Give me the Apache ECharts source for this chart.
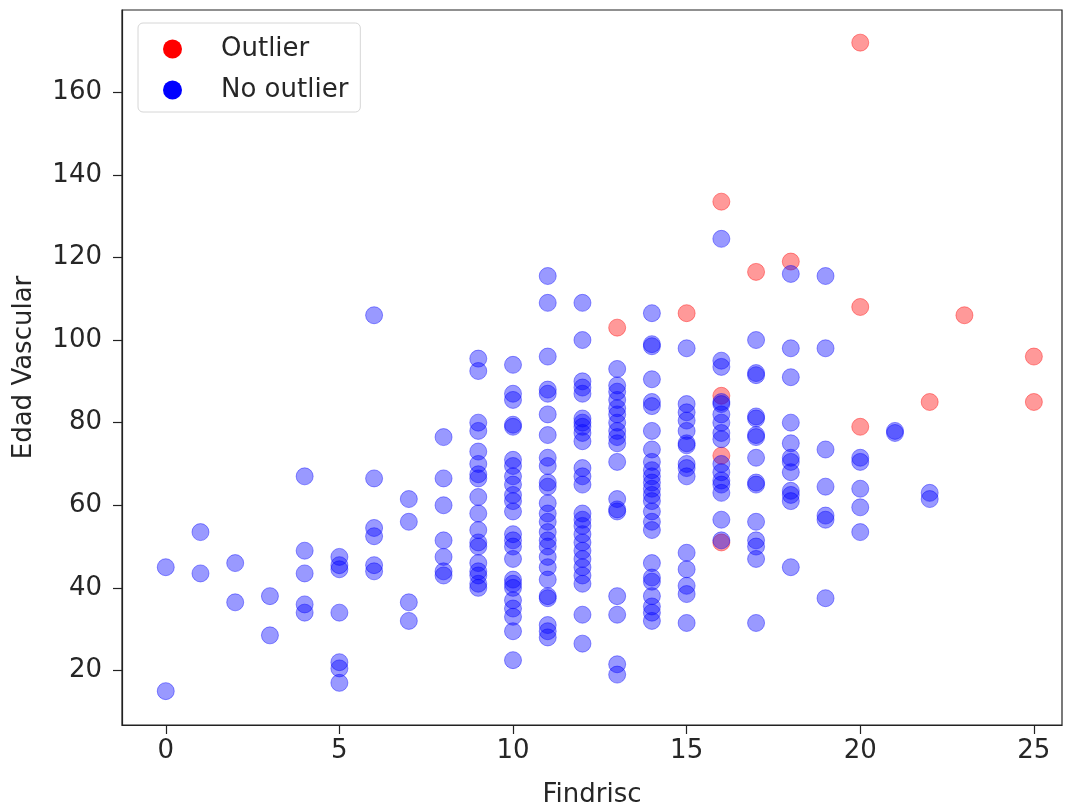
<!DOCTYPE html>
<html>
<head>
<meta charset="utf-8">
<script src="https://cdn.jsdelivr.net/npm/echarts@6/dist/echarts.min.js"></script>
<style>html,body{margin:0;padding:0;background:#fff;}#chart{width:1073px;height:810px;}</style>
</head>
<body>
<div id="chart"></div>
<script>
// Findrisc level for each column of "No outlier" points
const findriscLevels = [0,1,2,3,4,5,6,7,8,9,10,11,12,13,14,15,16,17,18,19,20,21,22];
// Edad Vascular values of "No outlier" points, one list per Findrisc level
const noOutlierEdad = [
  [45, 15],
  [53.5, 43.5],
  [46, 36.5],
  [38, 28.5],
  [67, 49, 43.5, 36, 34],
  [47.5, 45.5, 44.5, 34, 22, 20.5, 17],
  [106, 66.5, 54.5, 52.5, 45.5, 44],
  [61.5, 56, 36.5, 32],
  [76.5, 66.5, 60, 51.5, 47.5, 44, 43],
  [95.5, 92.5, 80, 78, 73, 70, 67.5, 66.5, 62, 58, 54, 51, 50, 46, 44, 43, 41, 40],
  [94, 87, 85.5, 79.5, 79, 71, 69.5, 67, 65, 62.5, 61, 58.5, 53, 51.5, 50, 47, 42, 41, 40, 37, 35, 33, 29.5, 22.5],
  [115.5, 109, 96, 88, 87, 82, 77, 71.5, 69.5, 65.5, 64.5, 60.5, 58, 56, 53.5, 51.5, 50, 47.5, 45, 42, 38, 37.5, 31, 29.5, 28],
  [109, 100, 90, 88.5, 87, 81, 80, 79, 77.5, 75.5, 69, 67, 65, 58, 56.5, 55, 53, 51, 49, 47, 45, 43, 41, 33.5, 26.5],
  [93, 89, 87.5, 85.5, 83.5, 82, 80, 78, 76.5, 75, 70.5, 61.5, 59, 58.5, 38, 33.5, 21.5, 19],
  [106.5, 99, 98.5, 90.5, 85, 84, 78, 73.5, 70.5, 68.5, 67, 65.5, 64, 62.5, 61, 58.5, 56, 54, 46, 42.5, 41.5, 38, 35.5, 34, 32],
  [98, 84.5, 82.5, 80.5, 78, 75, 74.5, 70, 69, 67, 48.5, 44.5, 40.5, 38.5, 31.5],
  [124.5, 95, 93.5, 85, 84.5, 82, 80, 77.5, 76, 70, 68, 66, 65, 63, 56.5, 51.5],
  [100, 92, 91.5, 81.5, 81, 77, 76.5, 71.5, 65.5, 65, 56, 51.5, 50, 47, 31.5],
  [116, 98, 91, 80, 75, 71.5, 70.5, 68, 63.5, 62.5, 61, 45],
  [115.5, 98, 73.5, 64.5, 57.5, 56.5, 37.5],
  [71.5, 70.5, 64, 59.5, 53.5],
  [78, 77.5],
  [63, 61.5]
];
// Outlier points
const outlierFindrisc = [13, 15, 16, 16, 16, 16, 17, 18, 20, 20, 20, 22, 23, 25, 25];
const outlierEdad     = [103, 106.5, 133.5, 86.5, 72, 51, 116.5, 119, 172, 108, 79, 85, 106, 96, 85];
// Tick labels
const xTicks = [0, 5, 10, 15, 20, 25];
const yTicks = [20, 40, 60, 80, 100, 120, 140, 160];
const seriesNames = ['Outlier', 'No outlier'];
const axisNames = { x: 'Findrisc', y: 'Edad Vascular' };

const noOutlierData = [];
findriscLevels.forEach((f, i) => { noOutlierEdad[i].forEach(v => noOutlierData.push([f, v])); });
const outlierData = outlierFindrisc.map((f, i) => [f, outlierEdad[i]]);

const font = 'DejaVu Sans';
const fs = 26;
const txt = '#262626';
const chart = echarts.init(document.getElementById('chart'), null, { renderer: 'canvas' });
chart.setOption({
  animation: false,
  backgroundColor: '#fff',
  grid: { left: 122, top: 10, right: 11, bottom: 85, outerBoundsMode: 'none', containLabel: false,
    show: true, borderColor: '#222', borderWidth: 1.2, backgroundColor: 'transparent' },
  legend: {
    left: 138, top: 23, orient: 'vertical',
    padding: [13, 12, 9, 25],
    itemWidth: 19, itemHeight: 19, itemGap: 15,
    borderColor: '#d6d6d6', borderWidth: 1, borderRadius: 5,
    backgroundColor: '#fff',
    textStyle: { fontFamily: font, fontSize: fs, color: txt, lineHeight: 26, padding: [0, 0, 0, 34] },
    data: [
      { name: seriesNames[0], icon: 'circle', itemStyle: { color: '#ff0000', opacity: 1, borderWidth: 0 } },
      { name: seriesNames[1], icon: 'circle', itemStyle: { color: '#0000ff', opacity: 1, borderWidth: 0 } }
    ]
  },
  xAxis: {
    type: 'value', min: -1.26, max: 25.81, minInterval: 5, maxInterval: 5, splitNumber: 5,
    name: axisNames.x, nameLocation: 'middle', nameGap: 57,
    nameTextStyle: { fontFamily: font, fontSize: fs, color: txt },
    axisLine: { show: true, onZero: false, lineStyle: { color: '#222', width: 1.2 } },
    axisTick: { show: true, length: 9, customValues: xTicks, lineStyle: { color: '#222', width: 1.2 } },
    axisLabel: { fontFamily: font, fontSize: fs, color: txt, margin: 13, customValues: xTicks,
      formatter: v => (xTicks.indexOf(v) >= 0 ? String(v) : '') },
    splitLine: { show: false }
  },
  yAxis: {
    type: 'value', min: 6.8, max: 179.9, minInterval: 20, maxInterval: 20, splitNumber: 8,
    name: axisNames.y, nameLocation: 'middle', nameGap: 85,
    nameTextStyle: { fontFamily: font, fontSize: fs, color: txt },
    axisLine: { show: true, onZero: false, lineStyle: { color: '#222', width: 1.2 } },
    axisTick: { show: true, length: 9, customValues: yTicks, lineStyle: { color: '#222', width: 1.2 } },
    axisLabel: { fontFamily: font, fontSize: fs, color: txt, margin: 20, customValues: yTicks,
      formatter: v => (yTicks.indexOf(v) >= 0 ? String(v) : '') },
    splitLine: { show: false }
  },
  series: [
    {
      name: seriesNames[0], type: 'scatter', symbol: 'circle', symbolSize: 17,
      itemStyle: { color: 'rgba(255,0,0,0.5)', borderColor: 'rgba(255,0,0,0.5)', borderWidth: 1 },
      data: outlierData
    },
    {
      name: seriesNames[1], type: 'scatter', symbol: 'circle', symbolSize: 17,
      itemStyle: { color: 'rgba(0,0,255,0.5)', borderColor: 'rgba(0,0,255,0.5)', borderWidth: 1 },
      data: noOutlierData
    }
  ]
});
</script>
</body>
</html>
